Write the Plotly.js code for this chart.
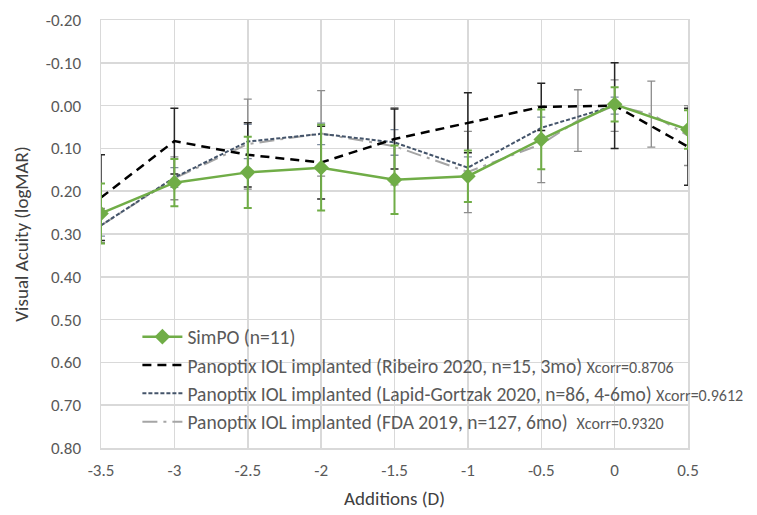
<!DOCTYPE html>
<html>
<head>
<meta charset="utf-8">
<script src="https://cdn.plot.ly/plotly-3.0.1.min.js"></script>
<style>html,body{margin:0;padding:0;background:#fff;}#chart{width:757px;height:515px;}</style>
</head>
<body>
<div id="chart"></div>
<script>
// Additions (D)
const additions = [-3.5, -3, -2.5, -2, -1.5, -1, -0.5, 0, 0.5];
const fdaAdditions = [-3.5, -3, -2.5, -2, -1.5, -1, -0.5, -0.25, 0, 0.25, 0.5];

// SimPO (n=11)
const simpo = [0.252, 0.180, 0.156, 0.145, 0.173, 0.165, 0.079, -0.003, 0.056];
const simpoErr = [0.070, 0.055, 0.083, 0.100, 0.080, 0.060, 0.070, 0.040, 0.045];

// Ribeiro 2020
const ribeiro = [0.215, 0.083, 0.115, 0.133, 0.078, 0.040, 0.003, 0.000, 0.096];
const ribeiroErr = [0.100, 0.077, 0.075, 0.085, 0.070, 0.070, 0.055, 0.100, 0.090];

// Lapid-Gortzak 2020
const lapid = [0.280, 0.168, 0.084, 0.066, 0.086, 0.145, 0.052, 0.000];
const lapidErr = [0.025, 0.023, 0.040, 0.025, 0.030, 0.025, 0.025, 0.020];

// FDA 2019
const fda = [0.280, 0.170, 0.090, 0.065, 0.095, 0.155, 0.090, 0.035, 0.000, 0.020, 0.070];
const fdaErr = [0.040, 0.050, 0.105, 0.100, 0.090, 0.095, 0.090, 0.072, 0.060, 0.077, 0.070];

// Legend labels
const labels = [
  'SimPO (n=11)',
  'Panoptix IOL implanted (Ribeiro 2020, n=15, 3mo) <span style="font-size:16px">Xcorr=0.8706</span>',
  'Panoptix IOL implanted (Lapid-Gortzak 2020, n=86, 4-6mo) <span style="font-size:16px">Xcorr=0.9612</span>',
  'Panoptix IOL implanted (FDA 2019, n=127, 6mo)  <span style="font-size:16px">Xcorr=0.9320</span>'
];

const yTicks = [-0.2, -0.1, 0, 0.1, 0.2, 0.3, 0.4, 0.5, 0.6, 0.7, 0.8];
const xTicks = [-3.5, -3, -2.5, -2, -1.5, -1, -0.5, 0, 0.5];

const traces = [
  {
    x: fdaAdditions, y: fda, name: labels[3], legendrank: 4,
    mode: 'lines', type: 'scatter',
    line: {color: '#A5A5A5', width: 2, dash: 'longdashdot'},
    error_y: {type: 'data', array: fdaErr, visible: true, color: '#8C8C8C', thickness: 1.3, width: 4}
  },
  {
    x: additions.slice(0, lapid.length), y: lapid, name: labels[2], legendrank: 3,
    mode: 'lines', type: 'scatter',
    line: {color: '#44546A', width: 2, dash: '4px,2px'},
    error_y: {type: 'data', array: lapidErr, visible: true, color: '#7F8C9F', thickness: 1.3, width: 4}
  },
  {
    x: additions, y: ribeiro, name: labels[1], legendrank: 2,
    mode: 'lines', type: 'scatter',
    line: {color: '#000000', width: 2.5, dash: '9px,6px'},
    error_y: {type: 'data', array: ribeiroErr, visible: true, color: '#262626', thickness: 1.5, width: 4}
  },
  {
    x: additions, y: simpo, name: labels[0], legendrank: 1,
    mode: 'lines+markers', type: 'scatter',
    line: {color: '#70AD47', width: 2.5},
    marker: {symbol: 'diamond', size: 12, color: '#70AD47'},
    error_y: {type: 'data', array: simpoErr, visible: true, color: '#70AD47', thickness: 2, width: 4}
  }
];

const fontFam = 'Carlito, Lato, "Open Sans", sans-serif';

const layout = {
  width: 757, height: 515,
  margin: {l: 101, r: 69, t: 20, b: 67, autoexpand: false},
  paper_bgcolor: '#fff', plot_bgcolor: '#fff',
  font: {family: fontFam, color: '#595959', size: 14},
  showlegend: true,
  legend: {
    x: 0.062, y: 0.305, xanchor: 'left', yanchor: 'top',
    bgcolor: 'rgba(0,0,0,0)', borderwidth: 0,
    font: {family: fontFam, size: 19.5, color: '#595959'},
    tracegroupgap: 0, itemwidth: 40
  },
  xaxis: {
    range: [-3.5, 0.5], tickvals: xTicks, ticktext: xTicks.map(String),
    showgrid: true, gridcolor: '#D9D9D9', gridwidth: 1.5,
    zeroline: false, showline: true, linecolor: '#D9D9D9', linewidth: 1.5, mirror: true,
    ticks: '', tickfont: {size: 17, color: '#595959'}, ticklabelstandoff: 6,
    title: {text: 'Additions (D)', font: {size: 19, color: '#404040'}, standoff: 12}
  },
  yaxis: {
    range: [0.8, -0.2], tickvals: yTicks, ticktext: yTicks.map(v => v.toFixed(2)),
    showgrid: true, gridcolor: '#D9D9D9', gridwidth: 1.5,
    zeroline: false, showline: true, linecolor: '#D9D9D9', linewidth: 1.5, mirror: true,
    ticks: '', tickfont: {size: 17, color: '#595959'}, ticklabelstandoff: 15,
    title: {text: 'Visual Acuity (logMAR)', font: {size: 19, color: '#404040'}, standoff: 12}
  }
};

Plotly.newPlot('chart', traces, layout, {displayModeBar: false, staticPlot: true});
</script>
</body>
</html>
